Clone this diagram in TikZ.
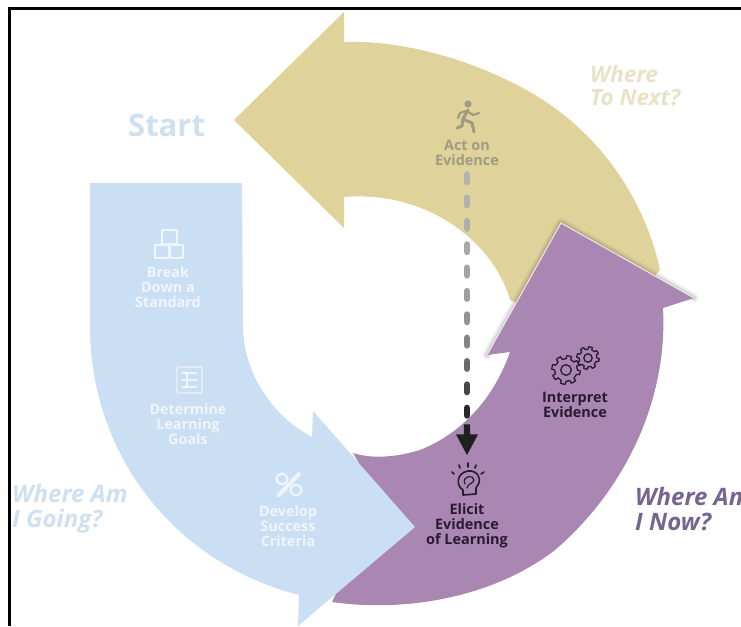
\documentclass[tikz,border=0pt]{standalone}
\usepackage{fontspec}
\setmainfont{Open Sans}
\usetikzlibrary{calc}
\definecolor{cblue}{HTML}{CBDFF4}
\definecolor{cgold}{HTML}{DFD29B}
\definecolor{cpurple}{HTML}{A987B2}
\definecolor{tblue}{HTML}{CFE0F1}
\definecolor{tgold}{HTML}{E8E2C6}
\definecolor{tpurple}{HTML}{75658F}
\definecolor{tdark}{HTML}{2A1A30}
\definecolor{tgrey}{HTML}{A09A80}
\definecolor{twhite}{HTML}{EFF5FC}
\newcommand{\mygear}[4]{%
  \draw[#4] plot[samples=113,domain=0:360,variable=\a]
    ({#1+(#3*(0.8+0.22*(sin(8*\a)>0)))*cos(\a)},{#2+(#3*(0.8+0.22*(sin(8*\a)>0)))*sin(\a)}) -- cycle;
  \draw[#4] (#1,#2) circle[radius=0.38*#3];
}
\tikzset{
  lab/.style={font=\bfseries\fontsize{14.4}{15}\selectfont,align=center,inner sep=0pt},
  side/.style={font=\bfseries\itshape\fontsize{24}{24.5}\selectfont,align=left,inner sep=0pt,anchor=west},
  halo/.style={draw=#1,line cap=round,line join=round},
  dashseg/.style={line width=6.5pt,line cap=round},
  icondark/.style={draw=tdark,line width=1.3pt,line join=round,line cap=round},
  iconlight/.style={draw=twhite,line width=1.4pt,line join=round,line cap=round},
  icongrey/.style={draw=tgrey,line width=3pt,line join=round,line cap=round},
}
\begin{document}
\begin{tikzpicture}[x=1pt,y=-1pt]
\useasboundingbox (0,0) rectangle (741,626);
\clip (0,0) rectangle (741,626);
\fill[white] (0,0) rectangle (741,626);
% frame
\draw[black,line width=2.6pt] (9.5,626) -- (9.5,8.5) -- (741,8.5);
% gold
\fill[cgold] (234,120) -- (344,12) -- (344,42) .. controls (400,40) and (470,58) .. (530,92) .. controls (600,132) and (645,200) .. (660,270) -- (600,340) -- (510,300) .. controls (495,245) and (430,190) .. (344,197) -- (344,228) -- cycle;
% soft shadow of the purple head
\foreach \w/\o in {10/0.04,7/0.05,4/0.08}{
  \draw[halo=black,line width=\w pt,opacity=\o] (487,355) -- (561,223) -- (694,298);
}
% purple
\fill[cpurple] (561,223) -- (694,298) -- (663,308) .. controls (668,400) and (625,490) .. (555,550) .. controls (490,600) and (400,612) .. (332,602) -- (380,500) -- (353,453) .. controls (375,460) and (400,456) .. (420,450) .. controls (465,432) and (495,395) .. (510,352) -- (487,355) -- cycle;
\draw[white!80!cpurple,line width=1pt] (487,355) -- (561,223) -- (694,298);
% blue
\fill[cblue] (90,183) -- (242,183) -- (243,326) .. controls (243,370) and (270,415) .. (312,437) -- (313,411) -- (415,527) -- (298,626) -- (299,595) .. controls (180,565) and (90,460) .. (90,326) -- cycle;
% texts
\node[side,font=\bfseries\fontsize{31}{32}\selectfont,text=tblue] (start) at (128,125) {Start};
\node[side,font=\bfseries\itshape\fontsize{22.5}{23}\selectfont,text=tgold] (next) at (590,86) {Where\\To Next?};
\node[side,text=tblue] (going) at (12,509) {Where Am\\I Going?};
\node[side,text=tpurple] (now) at (635,509) {Where Am\\I Now?};
\node[lab,text=tgrey] (act) at (467,152.5) {Act on\\Evidence};
\node[lab,text=tdark] (interp) at (575,404.5) {Interpret\\Evidence};
\node[lab,text=tdark] (elicit) at (467,526) {Elicit\\Evidence\\of Learning};
\node[lab,text=twhite] (breakd) at (168,287) {Break\\Down a\\Standard};
\node[lab,text=twhite] (det) at (188,424) {Determine\\Learning\\Goals};
\node[lab,text=twhite] (dev) at (288,526) {Develop\\Success\\Criteria};
% dashed connector, grey to black
\path (act.south) coordinate (d0);
\foreach \i/\k in {0/30,1/30,2/32,3/34,4/36,5/38,6/42,7/48,8/58,9/72,10/84}{
  \pgfmathsetmacro{\sy}{9+\i*23.35}
  \draw[dashseg,draw=black!\k] ($(d0)+(0,\sy)$) -- ($(d0)+(0,\sy+7.5)$);
}
\coordinate (tip) at (467,455);
\fill[black!88,draw=none] ($(d0)+(-3.2,259)$) -- ($(d0)+(3.2,259)$) -- ($(d0)+(3.2,269)$) -- ($(d0)+(11,269)$) -- (tip) -- ($(d0)+(-11,269)$) -- ($(d0)+(-3.2,269)$) -- cycle;
% runner icon
\fill[tgrey] (468,104) circle[radius=3.6];
\draw[icongrey] (468,110) -- (463,119) -- (472,123) -- (474,132);
\draw[icongrey] (463,119) -- (462,126) -- (457,128);
\draw[icongrey,line width=2.2pt] (467,111) -- (473,115) -- (479,113);
\draw[icongrey,line width=2.2pt] (466,111) -- (460,113) -- (458,118);
% blocks
\draw[iconlight] (162,230) rectangle (177,244);
\draw[iconlight] (155,245) rectangle (168.5,258);
\draw[iconlight] (170,245) rectangle (183,258);
% list
\draw[iconlight,rounded corners=1.5pt] (177,367) rectangle (202,393);
\draw[iconlight,line width=1.1pt] (182,373) -- (197,373) (182,380) -- (197,380) (182,387) -- (197,387) (187,373) -- (187,387);
% percent
\draw[iconlight,line width=2.2pt] (282,479) circle[radius=5.5];
\draw[iconlight,line width=2.2pt] (296,490) circle[radius=5.5];
\draw[iconlight,line width=4pt] (299,474) -- (279,495);
% gears
\mygear{566}{370}{14}{icondark}
\mygear{588}{358}{11}{icondark}
% head with rays
\draw[icondark,line width=1.6pt] (463,495) -- (463,490) .. controls (456,486) and (456,473) .. (468,471) .. controls (477,470) and (481,478) .. (479,483) -- (476,488) -- (476,494) -- cycle;
\draw[icondark,line width=1.2pt] (465,484) .. controls (461,476) and (474,474) .. (474,480) .. controls (473,484) and (468,483) .. (467,488);
\draw[icondark,line width=1.6pt] (454,474) -- (452,472) (460,468) -- (459,465) (468,467) -- (468,463) (475,468) -- (476,465) (481,474) -- (484,472);
\end{tikzpicture}
\end{document}
